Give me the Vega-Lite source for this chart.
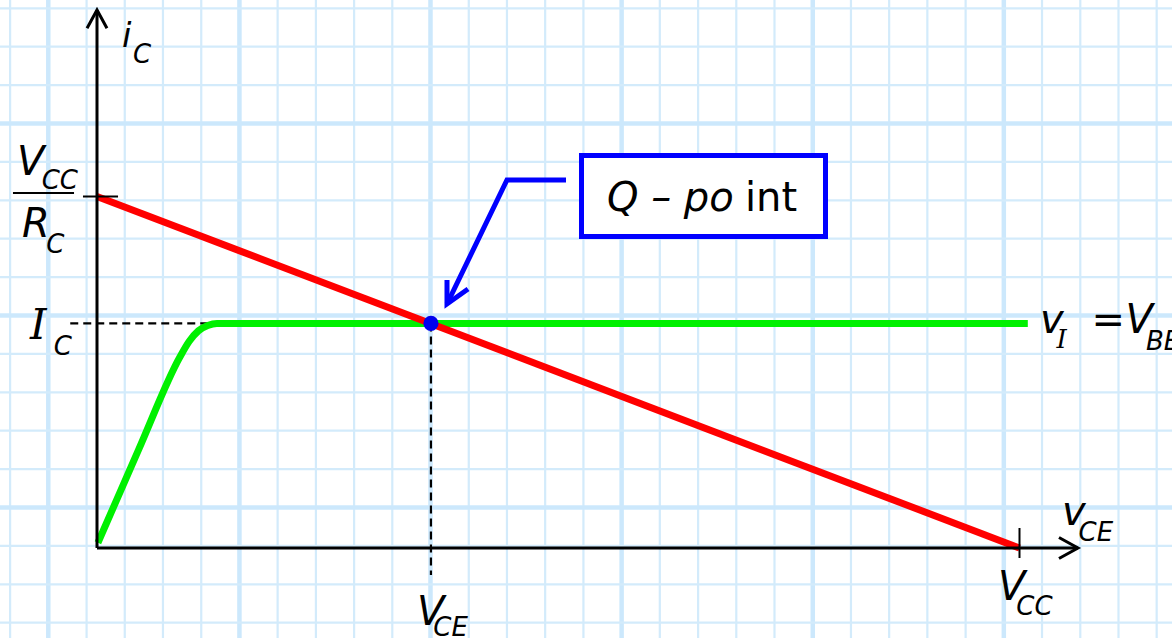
{
  "$schema": "https://vega.github.io/schema/vega-lite/v6.json",
  "width": 1172,
  "height": 638,
  "padding": 0,
  "autosize": {"type": "none"},
  "background": "white",
  "config": {"view": {"stroke": null}, "axis": {"disable": true}, "legend": {"disable": true}},
  "layer": [
    {
      "data": {"values": [
        {"v": -0.942, "kind": "thin"}, {"v": -0.528, "kind": "thick"}, {"v": -0.113, "kind": "thin"},
        {"v": 0.301, "kind": "thin"}, {"v": 0.715, "kind": "thin"}, {"v": 1.130, "kind": "thin"},
        {"v": 1.544, "kind": "thick"}, {"v": 1.958, "kind": "thin"}, {"v": 2.373, "kind": "thin"},
        {"v": 2.787, "kind": "thin"}, {"v": 3.201, "kind": "thin"}, {"v": 3.615, "kind": "thick"},
        {"v": 4.030, "kind": "thin"}, {"v": 4.444, "kind": "thin"}, {"v": 4.858, "kind": "thin"},
        {"v": 5.273, "kind": "thin"}, {"v": 5.687, "kind": "thick"}, {"v": 6.101, "kind": "thin"},
        {"v": 6.516, "kind": "thin"}, {"v": 6.930, "kind": "thin"}, {"v": 7.344, "kind": "thin"},
        {"v": 7.759, "kind": "thick"}, {"v": 8.173, "kind": "thin"}, {"v": 8.587, "kind": "thin"},
        {"v": 9.001, "kind": "thin"}, {"v": 9.416, "kind": "thin"}, {"v": 9.830, "kind": "thick"},
        {"v": 10.244, "kind": "thin"}, {"v": 10.659, "kind": "thin"}, {"v": 11.073, "kind": "thin"},
        {"v": 11.487, "kind": "thin"}
      ]},
      "mark": {"type": "rule"},
      "encoding": {
        "x": {"field": "v", "type": "quantitative", "scale": {"domain": [-1.0515, 11.6531], "nice": false, "zero": false}},
        "color": {"field": "kind", "type": "nominal", "scale": {"domain": ["thin", "thick"], "range": ["#d3ebfb", "#cce8fc"]}, "legend": null},
        "strokeWidth": {"field": "kind", "type": "nominal", "scale": {"domain": ["thin", "thick"], "range": [2.2, 4.5]}, "legend": null}
      }
    },
    {
      "data": {"values": [
        {"i": 15.354, "kind": "thin"}, {"i": 14.262, "kind": "thin"}, {"i": 13.169, "kind": "thin"},
        {"i": 12.077, "kind": "thick"}, {"i": 10.984, "kind": "thin"}, {"i": 9.892, "kind": "thin"},
        {"i": 8.799, "kind": "thin"}, {"i": 7.707, "kind": "thin"}, {"i": 6.614, "kind": "thick"},
        {"i": 5.522, "kind": "thin"}, {"i": 4.429, "kind": "thin"}, {"i": 3.337, "kind": "thin"},
        {"i": 2.244, "kind": "thin"}, {"i": 1.152, "kind": "thick"}, {"i": 0.059, "kind": "thin"},
        {"i": -1.033, "kind": "thin"}, {"i": -2.125, "kind": "thin"}
      ]},
      "mark": {"type": "rule"},
      "encoding": {
        "y": {"field": "i", "type": "quantitative", "scale": {"domain": [-2.5605, 15.5903], "nice": false, "zero": false}},
        "color": {"field": "kind", "type": "nominal", "scale": {"domain": ["thin", "thick"], "range": ["#d3ebfb", "#cce8fc"]}, "legend": null},
        "strokeWidth": {"field": "kind", "type": "nominal", "scale": {"domain": ["thin", "thick"], "range": [2.2, 4.5]}, "legend": null}
      }
    },
    {
      "data": {"values": [{"v": 5.252, "v2": 7.897, "i": 11.166, "i2": 8.862}]},
      "mark": {"type": "rect", "fill": "white", "stroke": "#0000ff", "strokeWidth": 5},
      "encoding": {
        "x": {"field": "v", "type": "quantitative", "scale": {"domain": [-1.0515, 11.6531], "nice": false, "zero": false}},
        "x2": {"field": "v2"},
        "y": {"field": "i", "type": "quantitative", "scale": {"domain": [-2.5605, 15.5903], "nice": false, "zero": false}},
        "y2": {"field": "i2"}
      }
    },
    {
      "data": {"values": [
        {"v": -0.29, "i": 6.39, "v2": 1.2, "i2": 6.39},
        {"v": 3.62, "i": 6.39, "v2": 3.62, "i2": -0.77}
      ]},
      "mark": {"type": "rule", "color": "black", "strokeWidth": 2.2, "strokeDash": [8, 5]},
      "encoding": {
        "x": {"field": "v", "type": "quantitative", "scale": {"domain": [-1.0515, 11.6531], "nice": false, "zero": false}},
        "x2": {"field": "v2"},
        "y": {"field": "i", "type": "quantitative", "scale": {"domain": [-2.5605, 15.5903], "nice": false, "zero": false}},
        "y2": {"field": "i2"}
      }
    },
    {
      "data": {"values": [
        {"v": 0.01, "i": 0.15}, {"v": 0.45, "i": 2.79}, {"v": 0.9, "i": 5.44}, {"v": 1.0, "i": 5.88}, {"v": 1.1, "i": 6.18},
        {"v": 1.2, "i": 6.33}, {"v": 1.3, "i": 6.39}, {"v": 10.09, "i": 6.39}
      ]},
      "mark": {"type": "line", "color": "#00f000", "strokeWidth": 7, "interpolate": "monotone"},
      "encoding": {
        "x": {"field": "v", "type": "quantitative", "scale": {"domain": [-1.0515, 11.6531], "nice": false, "zero": false}},
        "y": {"field": "i", "type": "quantitative", "scale": {"domain": [-2.5605, 15.5903], "nice": false, "zero": false}}
      }
    },
    {
      "data": {"values": [{"v": 0, "i": 10}, {"v": 10, "i": 0}]},
      "mark": {"type": "line", "color": "#ff0000", "strokeWidth": 7},
      "encoding": {
        "x": {"field": "v", "type": "quantitative", "scale": {"domain": [-1.0515, 11.6531], "nice": false, "zero": false}},
        "y": {"field": "i", "type": "quantitative", "scale": {"domain": [-2.5605, 15.5903], "nice": false, "zero": false}}
      }
    },
    {
      "data": {"values": [
        {"seg": "xaxis", "ord": 0, "v": 0, "i": 0}, {"seg": "xaxis", "ord": 1, "v": 10.634, "i": 0},
        {"seg": "xhead", "ord": 0, "v": 10.428, "i": 0.3}, {"seg": "xhead", "ord": 1, "v": 10.634, "i": 0}, {"seg": "xhead", "ord": 2, "v": 10.428, "i": -0.3},
        {"seg": "yaxis", "ord": 0, "v": 0, "i": 0}, {"seg": "yaxis", "ord": 1, "v": 0, "i": 15.306},
        {"seg": "yhead", "ord": 0, "v": -0.108, "i": 14.785}, {"seg": "yhead", "ord": 1, "v": 0, "i": 15.306}, {"seg": "yhead", "ord": 2, "v": 0.108, "i": 14.785}
      ]},
      "mark": {"type": "line", "color": "black", "strokeWidth": 3, "strokeJoin": "miter"},
      "encoding": {
        "x": {"field": "v", "type": "quantitative", "scale": {"domain": [-1.0515, 11.6531], "nice": false, "zero": false}},
        "y": {"field": "i", "type": "quantitative", "scale": {"domain": [-2.5605, 15.5903], "nice": false, "zero": false}},
        "detail": {"field": "seg", "type": "nominal"},
        "order": {"field": "ord", "type": "quantitative"}
      }
    },
    {
      "data": {"values": [
        {"v": -0.152, "i": 10, "v2": 0.228, "i2": 10},
        {"v": 10, "i": 0.569, "v2": 10, "i2": -0.284},
        {"v": -0.911, "i": 10.1, "v2": -0.249, "i2": 10.1}
      ]},
      "mark": {"type": "rule", "color": "black", "strokeWidth": 2},
      "encoding": {
        "x": {"field": "v", "type": "quantitative", "scale": {"domain": [-1.0515, 11.6531], "nice": false, "zero": false}},
        "x2": {"field": "v2"},
        "y": {"field": "i", "type": "quantitative", "scale": {"domain": [-2.5605, 15.5903], "nice": false, "zero": false}},
        "y2": {"field": "i2"}
      }
    },
    {
      "data": {"values": [
        {"seg": "shaft", "ord": 0, "v": 5.084, "i": 10.47}, {"seg": "shaft", "ord": 1, "v": 4.444, "i": 10.47}, {"seg": "shaft", "ord": 2, "v": 3.794, "i": 6.942},
        {"seg": "head", "ord": 0, "v": 3.794, "i": 7.625}, {"seg": "head", "ord": 1, "v": 3.794, "i": 6.942}, {"seg": "head", "ord": 2, "v": 4.022, "i": 7.368}
      ]},
      "mark": {"type": "line", "color": "#0000ff", "strokeWidth": 5, "strokeJoin": "miter", "strokeCap": "butt"},
      "encoding": {
        "x": {"field": "v", "type": "quantitative", "scale": {"domain": [-1.0515, 11.6531], "nice": false, "zero": false}},
        "y": {"field": "i", "type": "quantitative", "scale": {"domain": [-2.5605, 15.5903], "nice": false, "zero": false}},
        "detail": {"field": "seg", "type": "nominal"},
        "order": {"field": "ord", "type": "quantitative"}
      }
    },
    {
      "data": {"values": [{"v": 3.62, "i": 6.39}]},
      "mark": {"type": "point", "filled": true, "color": "#0000ee", "size": 230, "opacity": 1},
      "encoding": {
        "x": {"field": "v", "type": "quantitative", "scale": {"domain": [-1.0515, 11.6531], "nice": false, "zero": false}},
        "y": {"field": "i", "type": "quantitative", "scale": {"domain": [-2.5605, 15.5903], "nice": false, "zero": false}}
      }
    },
    {
      "data": {"values": [
        {"v": -0.867, "i": 10.612, "t": "V"},
        {"v": -0.813, "i": 8.848, "t": "R"},
        {"v": 10.222, "i": 6.117, "t": "v"},
        {"v": 10.78, "i": 6.117, "t": "="},
        {"v": 11.15, "i": 6.117, "t": "V"},
        {"v": 10.461, "i": 0.654, "t": "v"},
        {"v": 9.767, "i": -1.479, "t": "V"},
        {"v": 3.469, "i": -2.191, "t": "V"},
        {"v": 5.528, "i": 9.588, "t": "Q – po"}
      ]},
      "mark": {"type": "text", "font": "DejaVu Sans", "fontStyle": "italic", "fontSize": 40, "align": "left", "baseline": "alphabetic", "color": "black"},
      "encoding": {
        "x": {"field": "v", "type": "quantitative", "scale": {"domain": [-1.0515, 11.6531], "nice": false, "zero": false}},
        "y": {"field": "i", "type": "quantitative", "scale": {"domain": [-2.5605, 15.5903], "nice": false, "zero": false}},
        "text": {"field": "t"}
      }
    },
    {
      "data": {"values": [{"v": 7.024, "i": 9.588, "t": "int"}]},
      "mark": {"type": "text", "font": "DejaVu Sans", "fontSize": 40, "align": "left", "baseline": "alphabetic", "color": "black"},
      "encoding": {
        "x": {"field": "v", "type": "quantitative", "scale": {"domain": [-1.0515, 11.6531], "nice": false, "zero": false}},
        "y": {"field": "i", "type": "quantitative", "scale": {"domain": [-2.5605, 15.5903], "nice": false, "zero": false}},
        "text": {"field": "t"}
      }
    },
    {
      "data": {"values": [{"v": 0.271, "i": 14.253, "t": "i"}]},
      "mark": {"type": "text", "font": "DejaVu Sans", "fontStyle": "italic", "fontSize": 34, "align": "left", "baseline": "alphabetic", "color": "black"},
      "encoding": {
        "x": {"field": "v", "type": "quantitative", "scale": {"domain": [-1.0515, 11.6531], "nice": false, "zero": false}},
        "y": {"field": "i", "type": "quantitative", "scale": {"domain": [-2.5605, 15.5903], "nice": false, "zero": false}},
        "text": {"field": "t"}
      }
    },
    {
      "data": {"values": [
        {"v": -0.60, "i": 10.20, "t": "CC"},
        {"v": -0.55, "i": 8.40, "t": "C"},
        {"v": -0.47, "i": 5.50, "t": "C"},
        {"v": 11.37, "i": 5.64, "t": "BB"},
        {"v": 10.64, "i": 0.21, "t": "CE"},
        {"v": 9.965, "i": -1.92, "t": "CC"},
        {"v": 3.645, "i": -2.50, "t": "CE"},
        {"v": 0.39, "i": 13.80, "t": "C"}
      ]},
      "mark": {"type": "text", "font": "DejaVu Sans", "fontStyle": "italic", "fontSize": 26, "align": "left", "baseline": "alphabetic", "color": "black"},
      "encoding": {
        "x": {"field": "v", "type": "quantitative", "scale": {"domain": [-1.0515, 11.6531], "nice": false, "zero": false}},
        "y": {"field": "i", "type": "quantitative", "scale": {"domain": [-2.5605, 15.5903], "nice": false, "zero": false}},
        "text": {"field": "t"}
      }
    },
    {
      "data": {"values": [{"v": -0.726, "i": 5.946, "t": "I"}]},
      "mark": {"type": "text", "font": "DejaVu Serif", "fontStyle": "italic", "fontSize": 42, "align": "left", "baseline": "alphabetic", "color": "black"},
      "encoding": {
        "x": {"field": "v", "type": "quantitative", "scale": {"domain": [-1.0515, 11.6531], "nice": false, "zero": false}},
        "y": {"field": "i", "type": "quantitative", "scale": {"domain": [-2.5605, 15.5903], "nice": false, "zero": false}},
        "text": {"field": "t"}
      }
    },
    {
      "data": {"values": [{"v": 10.40, "i": 5.70, "t": "I"}]},
      "mark": {"type": "text", "font": "DejaVu Serif", "fontStyle": "italic", "fontSize": 26, "align": "left", "baseline": "alphabetic", "color": "black"},
      "encoding": {
        "x": {"field": "v", "type": "quantitative", "scale": {"domain": [-1.0515, 11.6531], "nice": false, "zero": false}},
        "y": {"field": "i", "type": "quantitative", "scale": {"domain": [-2.5605, 15.5903], "nice": false, "zero": false}},
        "text": {"field": "t"}
      }
    }
  ]
}
